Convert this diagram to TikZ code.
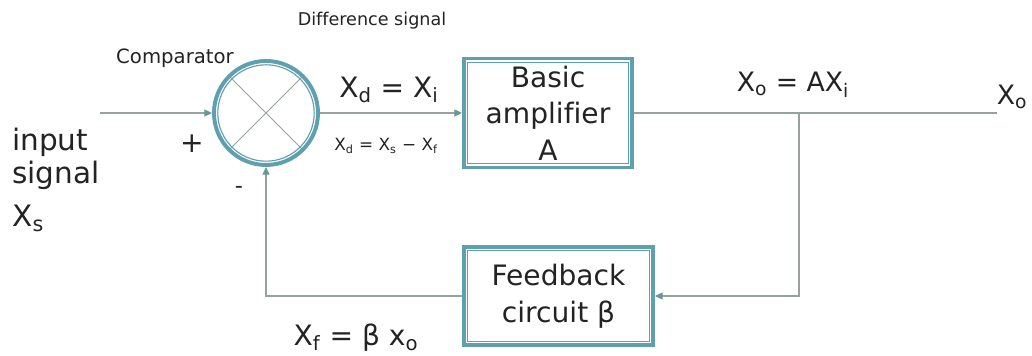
\documentclass[tikz,border=0pt]{standalone}
\usepackage{fontspec}
\setmainfont[Ligatures=NoCommon]{DejaVu Sans}
\usetikzlibrary{arrows.meta}
\definecolor{ringc}{RGB}{95,160,175}
\definecolor{wirec}{RGB}{150,162,158}
\definecolor{tipc}{RGB}{105,150,150}
\definecolor{txtc}{RGB}{35,35,35}
\begin{document}
\begin{tikzpicture}[x=2.5cm,y=2.5cm,
        wire/.style={draw=wirec, line width=0.8pt},
        sig/.style={wire, -{Triangle[length=5.5pt,width=5pt,color=tipc,fill=tipc]}},
        blockbox/.style={draw=ringc, line width=2.8pt, fill=white, align=center, text=txtc,
            font=\fontsize{20}{26}\selectfont, inner sep=0pt,
            path picture={\draw[ringc, line width=0.8pt]
                ([shift={(2.7pt,-2.7pt)}]path picture bounding box.north west) rectangle
                ([shift={(-2.7pt,2.7pt)}]path picture bounding box.south east);}},
        lbl/.style={text=txtc, inner sep=0pt}]
        \useasboundingbox (0,0) rectangle (10.32,3.56);
        \node[circle, draw=ringc, line width=2.8pt, fill=white, minimum size=2.6cm, inner sep=0pt,
            path picture={
                \draw[wirec, line width=0.6pt]
                    (path picture bounding box.north west) -- (path picture bounding box.south east)
                    (path picture bounding box.north east) -- (path picture bounding box.south west);
                \draw[ringc, line width=0.8pt] (path picture bounding box.center) circle[radius=1.3cm-2.7pt];
            }] (cmp) at (2.66,2.43) {};
        \node[blockbox, minimum width=4.2cm, minimum height=2.725cm] (amp) at (5.48,2.43) {Basic\\amplifier\\A};
        \node[blockbox, minimum width=4.725cm, minimum height=2.45cm] (fb) at (5.585,0.60) {Feedback\\circuit β};
        \coordinate (in) at (1.00,2.43);
        \coordinate (tap) at (7.99,2.43);
        \coordinate (out) at (9.97,2.43);
        \draw[sig] (in) -- (cmp.west);
        \draw[sig] (cmp.east) -- (amp.west);
        \draw[wire] (amp.east) -- (out);
        \draw[sig] (tap) |- (fb.east);
        \draw[sig] (fb.west) -| (cmp.south);
        \node[lbl, font=\fontsize{12.5}{14}\selectfont] (diff) at (3.72,3.35) {Difference signal};
        \node[lbl, font=\fontsize{14}{16}\selectfont] (cmplbl) at (1.75,2.98) {Comparator};
        \node[lbl, font=\fontsize{21}{23}\selectfont, align=left, anchor=west] (insig) at (0.12,1.76) {input\\signal\\[8pt]X\textsubscript{s}};
        \node[lbl, font=\fontsize{20}{24}\selectfont] (plus) at (1.92,2.12) {+};
        \node[lbl, font=\fontsize{16}{18}\selectfont] (minus) at (2.39,1.66) {-};
        \node[lbl, font=\fontsize{20}{24}\selectfont] (xd) at (3.89,2.66) {X\textsubscript{d} = X\textsubscript{i}};
        \node[lbl, font=\fontsize{12}{14}\selectfont] (xdeq) at (3.86,2.10) {X\textsubscript{d} = X\textsubscript{s} − X\textsubscript{f}};
        \node[lbl, font=\fontsize{19}{22}\selectfont] (xo) at (7.93,2.71) {X\textsubscript{o} = AX\textsubscript{i}};
        \node[lbl, font=\fontsize{19}{22}\selectfont] (xout) at (10.12,2.59) {X\textsubscript{o}};
        \node[lbl, font=\fontsize{20}{24}\selectfont] (xf) at (3.56,0.18) {X\textsubscript{f} = β x\textsubscript{o}};
    \end{tikzpicture}
\end{document}
